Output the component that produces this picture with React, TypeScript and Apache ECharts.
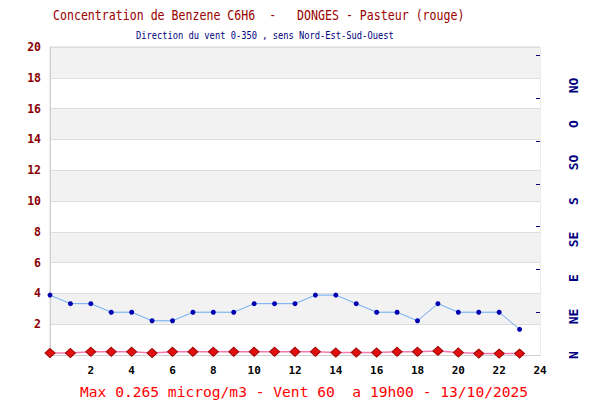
import React, { useEffect, useRef } from "react";
import * as echarts from "echarts";

const hours = [0, 1, 2, 3, 4, 5, 6, 7, 8, 9, 10, 11, 12, 13, 14, 15, 16, 17, 18, 19, 20, 21, 22, 23];
const benzene = [0.13, 0.13, 0.21, 0.21, 0.21, 0.13, 0.21, 0.21, 0.21, 0.21, 0.21, 0.21, 0.21, 0.21, 0.16, 0.16, 0.16, 0.21, 0.21, 0.265, 0.16, 0.09, 0.09, 0.09];
const windDir = [70, 60, 60, 50, 50, 40, 40, 50, 50, 50, 60, 60, 60, 70, 70, 60, 50, 50, 40, 60, 50, 50, 50, 30];
const dirNames = ["N", "NE", "E", "SE", "S", "SO", "O", "NO"];
const windTicks = [50, 100, 150, 200, 250, 300, 350];

const titleText = "Concentration de Benzene C6H6  -   DONGES - Pasteur (rouge)";
const subtitleText = "Direction du vent 0-350 , sens Nord-Est-Sud-Ouest";
const footerText = "Max 0.265 microg/m3 - Vent 60  a 19h00 - 13/10/2025";

const MONO = "DejaVu Sans Mono, Liberation Mono, monospace";

export default function App() {
  const ref = useRef<HTMLDivElement>(null);
  useEffect(() => {
    if (!ref.current) return;
    const chart = echarts.init(ref.current, null, { renderer: "svg" });
    chart.setOption({
      animation: false,
      backgroundColor: "#ffffff",
      grid: {
        left: 50,
        right: 60,
        top: 47,
        bottom: 45,
        show: true,
        borderColor: "#d8d8d8",
        borderWidth: 1,
      },
      graphic: [
        {
          type: "text",
          x: 53,
          y: 15,
          scaleX: 0.84,
          style: {
            text: titleText,
            fill: "#990000",
            font: `13.8px ${MONO}`,
            textVerticalAlign: "middle",
          },
        },
        {
          type: "text",
          x: 136,
          y: 35,
          scaleX: 0.81,
          style: {
            text: subtitleText,
            fill: "#000080",
            font: `10.8px ${MONO}`,
            textVerticalAlign: "middle",
          },
        },
        {
          type: "text",
          x: 80,
          y: 391,
          style: {
            text: footerText,
            fill: "#ff0000",
            font: `14.6px ${MONO}`,
            textVerticalAlign: "middle",
          },
        },
      ],
      xAxis: {
        type: "value",
        min: 0,
        max: 24,
        interval: 2,
        axisLine: { show: true, lineStyle: { color: "#d0d0d0" } },
        axisTick: { show: false },
        splitLine: { show: false },
        axisLabel: {
          showMinLabel: false,
          margin: 10,
          color: "#000000",
          fontFamily: MONO,
          fontWeight: "bold",
          fontSize: 11,
        },
      },
      yAxis: [
        {
          type: "value",
          min: 0,
          max: 20,
          interval: 2,
          position: "left",
          axisLine: { show: true, lineStyle: { color: "#d0d0d0" } },
          axisTick: { show: false },
          splitLine: { show: true, lineStyle: { color: "#dddddd" } },
          splitArea: { show: true, areaStyle: { color: ["#ffffff", "#f2f2f2"] } },
          axisLabel: {
            showMinLabel: false,
            margin: 9,
            color: "#8b0000",
            fontFamily: MONO,
            fontWeight: "bold",
            fontSize: 11.5,
          },
        },
        {
          type: "value",
          min: 0,
          max: 360,
          interval: 45,
          position: "right",
          axisLine: { show: false },
          axisTick: { show: false },
          splitLine: { show: false },
          axisLabel: {
            rotate: 90,
            margin: 27,
            color: "#000080",
            fontFamily: MONO,
            fontWeight: "bold",
            fontSize: 13,
            formatter: (v: number) => (v < 360 ? dirNames[Math.round(v / 45)] : ""),
          },
        },
        {
          type: "value",
          min: 0,
          max: 360,
          interval: 50,
          position: "right",
          axisLine: { show: false },
          splitLine: { show: false },
          axisLabel: { show: false },
          axisTick: {
            show: true,
            inside: true,
            length: 4,
            customValues: windTicks,
            lineStyle: { color: "#000080" },
          },
        },
      ],
      series: [
        {
          type: "line",
          yAxisIndex: 1,
          data: hours.map((h, i) => [h, windDir[i]]),
          symbol: "circle",
          symbolSize: 5,
          lineStyle: { color: "#6aaaf2", width: 1 },
          itemStyle: { color: "#0000b0" },
          z: 3,
        },
        {
          type: "line",
          yAxisIndex: 0,
          data: hours.map((h, i) => [h, benzene[i]]),
          symbol: "diamond",
          symbolSize: [10, 9],
          lineStyle: { color: "#f07ab0", width: 1.5 },
          itemStyle: { color: "#e01010", borderColor: "#a00000", borderWidth: 1 },
          z: 4,
        },
      ],
    });
    return () => chart.dispose();
  }, []);
  return <div ref={ref} style={{ width: 600, height: 400, position: "absolute", left: 0, top: 0 }} />;
}
